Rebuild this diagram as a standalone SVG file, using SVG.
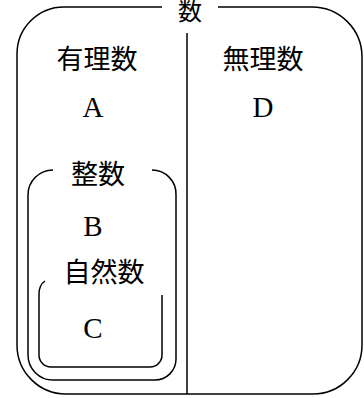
<svg xmlns="http://www.w3.org/2000/svg" width="364" height="398" viewBox="0 0 364 398">
<style>
.ln{fill:none;stroke:#000;stroke-width:1.5}
.cj{font-family:"Liberation Serif","Noto Sans CJK JP",serif;font-size:27px;fill:#000;text-anchor:middle}
.lt{font-family:"Liberation Serif",serif;font-size:29px;fill:#000;text-anchor:middle}
</style>
<rect width="364" height="398" fill="#fff"/>
<g id="outer">
<path class="ln" d="M162,7 H64 A47,47 0 0 0 17,54 V345 A49,49 0 0 0 66,394 H313 A49,49 0 0 0 362,345 V57 A50,50 0 0 0 312,7 H218"/>
<text class="cj" x="190" y="20" style="font-size:24px">数</text>
</g>
<g id="divider">
<path class="ln" d="M187,33 V394"/>
</g>
<g id="rational">
<text class="cj" x="97" y="69">有理数</text>
<text class="lt" x="93" y="117">A</text>
</g>
<g id="irrational">
<text class="cj" x="263" y="69">無理数</text>
<text class="lt" x="263" y="117">D</text>
</g>
<g id="integer">
<path class="ln" d="M53,170 A25,25 0 0 0 28,195 V355 A25,25 0 0 0 53,380 H155 A21,21 0 0 0 176,359 V195 A24,24 0 0 0 152,170"/>
<text class="cj" x="98" y="184">整数</text>
<text class="lt" x="93" y="236">B</text>
</g>
<g id="natural">
<path class="ln" d="M45,281 Q39,285 39,294 V355 A12,12 0 0 0 51,367 H150 A12,12 0 0 0 162,355 V295"/>
<text class="cj" x="104" y="282">自然数</text>
<text class="lt" x="93" y="338">C</text>
</g>
</svg>
